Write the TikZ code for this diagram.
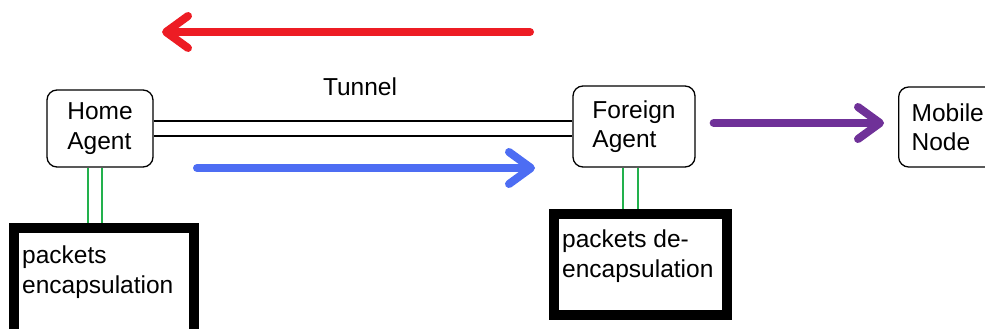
\documentclass[tikz,border=0pt]{standalone}
\usepackage{fontspec}
\setmainfont{Liberation Sans}
\usetikzlibrary{arrows.meta}
\definecolor{pred}{RGB}{237,28,36}
\definecolor{pblue}{RGB}{77,109,243}
\definecolor{ppurple}{RGB}{111,49,152}
\definecolor{pgreen}{RGB}{34,177,76}
\begin{document}
\begin{tikzpicture}[x=1pt, y=-1pt,
    agent/.style={draw, line width=1.3pt, rounded corners=10pt, align=left, inner sep=0pt},
    thickbox/.style={draw, line width=10pt, anchor=north west},
    txt/.style={align=left, inner sep=0pt, font=\fontsize{24.5}{29.5}\selectfont},
    arrowline/.style={line width=8pt, line cap=round, -{Straight Barb[length=22pt, width=32pt, round]}},
    gline/.style={draw=pgreen, double=white, line width=1.5pt}]
  \useasboundingbox (0,0) rectangle (985,329);
  \node[agent, txt, minimum width=106, minimum height=77] (home) at (100,128.5) {Home\\Agent};
  \node[agent, txt, minimum width=122, minimum height=81] (foreign) at (634,126.5) {Foreign\\Agent};
  \node[agent, txt, anchor=west, minimum height=80, text width=86, inner xsep=13pt] (mobile) at (898,127) {Mobile\\Node};
  \node[txt] (tunnel) at (360,87) {Tunnel};
  \draw[double, double distance=13.5pt, line width=1.5pt] (home.east) -- (home.east -| foreign.west); % tunnel
  % encapsulation boxes
  \node[thickbox, minimum width=180, minimum height=120] (enc) at (9,223) {};
  \node[txt, anchor=base west] (enctext) at (22,293) {packets\\encapsulation};
  \node[thickbox, minimum width=173, minimum height=101] (dec) at (549,209) {};
  \node[txt, anchor=base west] (dectext) at (562,277) {packets de-\\encapsulation};
  \draw[gline, double distance=12.5pt] ([xshift=-5]home.south) -- ([xshift=-5]home.south |- enc.north);
  \draw[gline, double distance=13.5pt] ([xshift=-3.5]foreign.south) -- ([xshift=-3.5]foreign.south |- dec.north);
  % arrows
  \coordinate (redfrom) at (530,32);
  \coordinate (redto) at (162,32);
  \coordinate (bluefrom) at (197,168);
  \coordinate (blueto) at (535,168);
  \draw[arrowline, pred] (redfrom) -- (redto);
  \draw[arrowline, pblue] (bluefrom) -- (blueto);
  \draw[arrowline, ppurple, shorten <=18pt, shorten >=14pt] ([yshift=4pt]foreign.east |- mobile.west) -- ([yshift=4pt]mobile.west);
\end{tikzpicture}
\end{document}
